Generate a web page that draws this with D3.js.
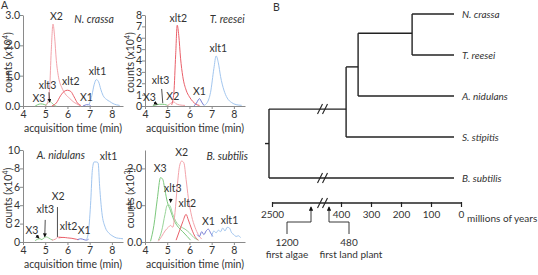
<!DOCTYPE html>
<html>
<head>
<meta charset="utf-8">
<script src="https://cdn.jsdelivr.net/npm/d3@7"></script>
<style>
  body { margin: 0; background: #fff; }
  text { font-family: Lato, "Open Sans", sans-serif; fill: #333; }
</style>
</head>
<body>
<div id="chart"></div>
<script>
// ---- data: part A, chromatograms (time in min, counts in the panel's unit) ----
const panelNames = ["N. crassa", "T. reesei", "A. nidulans", "B. subtilis"];
const yMax = [3, 8, 10, 2.5];
const yTicks = [[0, 1, 2, 3], [0, 1, 2, 3, 4, 5, 6, 7, 8], [0, 2, 4, 6, 8, 10], [0, 1, 2]];
const yExp = ["4", "4", "4", "3"];
const xTicks = [4, 5, 6, 7, 8];

const ncrassaTraces = [
  ["X3", [[4.55,0],[4.65,0.04],[4.8,0.07],[4.95,0.05],[5.05,0.02]]],
  ["xlt3", [[5.0,0.02],[5.1,0.08],[5.2,0.15],[5.3,0.1],[5.4,0.03],[5.5,0]]],
  ["X2", [[5.0,0],[5.1,0.1],[5.2,0.6],[5.27,1.8],[5.35,2.7],[5.42,2.3],[5.5,1.5],[5.6,0.95],[5.75,0.6],[5.9,0.4],[6.1,0.25],[6.3,0.12],[6.5,0.04],[6.6,0]]],
  ["xlt2", [[5.3,0],[5.5,0.1],[5.7,0.35],[5.85,0.48],[6.0,0.52],[6.15,0.48],[6.3,0.3],[6.45,0.1],[6.6,0.02]]],
  ["X1", [[6.7,0],[6.8,0.03],[6.9,0.05],[7.0,0.03],[7.05,0]]],
  ["xlt1", [[6.9,0.01],[7.0,0.1],[7.1,0.35],[7.2,0.7],[7.3,0.87],[7.4,0.8],[7.5,0.55],[7.6,0.35],[7.75,0.22],[7.9,0.15],[8.05,0.08],[8.2,0.04],[8.35,0.02]]]
];
const treeseiTraces = [
  ["X3", [[4.35,0.02],[4.5,0.1],[4.65,0.15],[4.8,0.15],[4.95,0.1],[5.05,0.03]]],
  ["X2", [[5.0,0.03],[5.1,0.15],[5.2,0.3],[5.3,0.35],[5.4,0.2],[5.55,0.1],[5.8,0.05]]],
  ["xlt2", [[5.2,0.1],[5.3,1.2],[5.38,4.5],[5.45,7.1],[5.52,6.2],[5.6,4.2],[5.7,2.6],[5.85,1.4],[6.0,0.8],[6.15,0.4],[6.3,0.15],[6.45,0.05]]],
  ["X1", [[6.2,0.02],[6.3,0.2],[6.4,0.55],[6.45,0.65],[6.55,0.35],[6.65,0.05]]],
  ["xlt1", [[6.65,0.05],[6.8,0.3],[6.95,1.2],[7.1,3.3],[7.2,4.4],[7.3,3.8],[7.4,2.6],[7.55,1.4],[7.7,0.7],[7.9,0.3],[8.1,0.12],[8.35,0.06]]]
];
const anidulansTraces = [
  ["X3", [[4.55,0.15],[4.65,0.3],[4.75,0.35],[4.85,0.25]]],
  ["xlt3", [[4.85,0.25],[4.95,0.45],[5.05,0.55],[5.15,0.45],[5.25,0.3],[5.35,0.2]]],
  ["X2", [[5.3,0.2],[5.45,0.3],[5.6,0.55],[5.75,0.5]]],
  ["xlt2", [[5.6,0.45],[5.8,0.5],[6.0,0.45],[6.2,0.4],[6.4,0.3],[6.5,0.25]]],
  ["X1", [[6.45,0.25],[6.6,0.35],[6.75,0.25],[6.85,0.2],[6.95,0.3]]],
  ["xlt1", [[6.85,0.2],[6.95,1.2],[7.05,4.5],[7.12,7.8],[7.2,8.7],[7.3,8.7],[7.38,8.6],[7.45,6],[7.55,3.2],[7.7,1.6],[7.85,1.0],[8.0,0.7],[8.2,0.45],[8.4,0.38],[8.5,0.35]]]
];
const bsubtilisTraces = [
  ["X3", [[4.25,0.02],[4.4,0.45],[4.55,1.15],[4.7,1.75],[4.8,1.7],[4.9,1.4],[5.0,1.1],[5.15,0.85],[5.3,0.6],[5.5,0.4],[5.7,0.28],[5.9,0.15],[6.05,0.05]]],
  ["xlt3", [[4.6,0.05],[4.75,0.3],[4.9,0.75],[5.0,1.0],[5.1,1.0],[5.25,0.75],[5.4,0.55],[5.6,0.42],[5.8,0.35],[6.0,0.25],[6.2,0.12],[6.4,0.05]]],
  ["X2", [[4.6,0.02],[4.75,0.15],[4.9,0.3],[5.05,0.4],[5.15,0.45],[5.25,0.4],[5.35,0.8],[5.45,1.5],[5.55,2.05],[5.65,2.2],[5.75,2.15],[5.85,1.7],[5.95,1.2],[6.1,0.7],[6.25,0.4],[6.4,0.2],[6.55,0.08]]],
  ["xlt2", [[5.4,0.05],[5.55,0.3],[5.7,0.55],[5.85,0.75],[5.95,0.6],[6.1,0.35],[6.25,0.15],[6.4,0.05]]],
  ["X1", [[6.35,0.2],[6.45,0.15],[6.55,0.28],[6.65,0.2],[6.75,0.3],[6.85,0.35],[6.95,0.25],[7.05,0.15]]],
  ["xlt1", [[7.0,0.15],[7.1,0.3],[7.2,0.25],[7.3,0.32],[7.4,0.28],[7.5,0.38],[7.6,0.3],[7.7,0.4],[7.8,0.38],[7.9,0.25],[8.0,0.2],[8.1,0.15],[8.2,0.17],[8.3,0.12]]]
];
const allTraces = [ncrassaTraces, treeseiTraces, anidulansTraces, bsubtilisTraces];

// peak labels: [text, time, value, pointer [t1, v1, t2, v2, arrowhead]]
const ncrassaLabels = [["X2",5.5,2.82],["xlt3",5.1,0.55,[5.17,0.45,5.2,0.13,1]],["X3",4.72,0.12],["xlt2",6.15,0.68],["X1",6.85,0.17],["xlt1",7.35,1.02]];
const treeseiLabels = [["xlt2",5.5,7.35],["X3",4.2,0.4,[4.4,0.3,4.55,0.15,1]],["xlt3",4.7,1.9,[4.75,1.5,4.8,0.25,0]],["X2",5.25,0.55],["X1",6.45,0.95],["xlt1",7.3,4.75]];
const anidulansLabels = [["X3",4.4,0.9,[4.58,0.75,4.72,0.42,1]],["xlt3",5.0,3.2,[5.0,2.4,4.98,0.58,1]],["X2",5.58,4.6,[5.55,3.8,5.55,0.55,0]],["xlt2",6.05,1.3],["X1",6.75,0.9],["xlt1",7.85,8.9]];
const bsubtilisLabels = [["X3",4.68,1.9],["X2",5.65,2.33],["xlt3",5.25,1.36,[5.16,1.18,5.15,1.08,1]],["xlt2",5.9,0.95],["X1",6.85,0.45],["xlt1",7.8,0.5]];
const allLabels = [ncrassaLabels, treeseiLabels, anidulansLabels, bsubtilisLabels];

// ---- data: part B, tree (ages in millions of years) ----
const taxa = ["N. crassa", "T. reesei", "A. nidulans", "S. stipitis", "B. subtilis"];
const treeData = { age: 2600, pos: 3.16, children: [
  { age: 383, pos: 2.32, cut: true, children: [
    { age: 343, pos: 1.29, children: [
      { age: 163, pos: 0.47, children: [{ name: "N. crassa" }, { name: "T. reesei" }] },
      { name: "A. nidulans" } ] },
    { name: "S. stipitis" } ] },
  { name: "B. subtilis", cut: true } ] };
const timeTicks = [2500, 400, 300, 200, 100, 0];
const events = [[1200, "1200", "first algae"], [480, "480", "first land plant"]];

// ---- styles / layout ----
const traceColor = { X3: "#7cc87c", xlt3: "#98d498", X2: "#f3a3aa", xlt2: "#ea606a", X1: "#7a7fd6", xlt1: "#a2c6ef" };
const boxes = [
  { x0: 23, yTop: 15, yBase: 106 }, { x0: 145, yTop: 15, yBase: 106 },
  { x0: 23, yTop: 150, yBase: 242 }, { x0: 145, yTop: 150, yBase: 242 }
];
const speciesPos = [[7.2, 2.75], [7.7, 7.3], [5.7, 9.0], [7.7, 2.22]];

const svg = d3.select("#chart").append("svg")
  .attr("width", 538).attr("height", 275);

svg.append("defs").append("marker")
  .attr("id", "ah").attr("viewBox", "0 0 6 6").attr("refX", 5).attr("refY", 3)
  .attr("markerWidth", 5).attr("markerHeight", 5).attr("orient", "auto")
  .append("path").attr("d", "M0,0L6,3L0,6Z").attr("fill", "#111");

svg.append("text").attr("x", 1).attr("y", 9).style("font-size", "10.5px").text("A");
svg.append("text").attr("x", 273).attr("y", 11).style("font-size", "10.5px").text("B");

allTraces.forEach(function (traces, i) {
  const b = boxes[i];
  const x = d3.scaleLinear().domain([4, 8.5]).range([b.x0, b.x0 + 100]);
  const y = d3.scaleLinear().domain([0, yMax[i]]).range([b.yBase, b.yTop]);
  const g = svg.append("g");

  const xa = g.append("g").attr("transform", `translate(0,${b.yBase})`)
    .call(d3.axisBottom(x).tickValues(xTicks).tickFormat(d3.format("d")).tickSize(3).tickSizeOuter(0));
  const ya = g.append("g").attr("transform", `translate(${b.x0},0)`)
    .call(d3.axisLeft(y).tickValues(yTicks[i]).tickSize(3).tickSizeOuter(0));
  [xa, ya].forEach(function (a) {
    a.select(".domain").attr("stroke", "#8a8a8a");
    a.selectAll(".tick line").attr("stroke", "#8a8a8a");
    a.selectAll(".tick text").style("font-size", "10.5px").attr("fill", "#333");
  });
  ya.selectAll(".tick text").attr("x", -3);
  xa.selectAll(".tick text").attr("y", 5);

  g.append("text")
    .attr("x", b.x0 + 50).attr("y", b.yBase + 26)
    .attr("text-anchor", "middle").style("font-size", "10.5px")
    .text("acquisition time  (min)");

  const yl = g.append("text")
    .attr("transform", `translate(${b.x0 - 15},${(b.yTop + b.yBase) / 2 + 2}) rotate(-90)`)
    .attr("text-anchor", "middle").attr("dy", "0.35em").style("font-size", "10.5px");
  yl.append("tspan").text("counts (x10");
  yl.append("tspan").attr("dy", -4).style("font-size", "7px").text(yExp[i]);
  yl.append("tspan").attr("dy", 4).text(")");

  const line = d3.line().x(d => x(d[0])).y(d => y(d[1])).curve(d3.curveMonotoneX);
  g.selectAll("path.trace").data(traces).join("path")
    .attr("class", "trace")
    .attr("d", d => line(d[1]))
    .attr("fill", "none")
    .attr("stroke", d => traceColor[d[0]])
    .attr("stroke-width", 1);

  g.append("text")
    .attr("x", x(speciesPos[i][0])).attr("y", y(speciesPos[i][1]))
    .attr("text-anchor", "middle").style("font-size", "10.5px").style("font-style", "italic")
    .text(panelNames[i]);

  allLabels[i].forEach(function (l) {
    g.append("text").attr("x", x(l[1])).attr("y", y(l[2]))
      .attr("text-anchor", "middle").style("font-size", "10.5px").text(l[0]);
    if (l[3]) {
      const p = l[3];
      g.append("line")
        .attr("x1", x(p[0])).attr("y1", y(p[1])).attr("x2", x(p[2])).attr("y2", y(p[3]))
        .attr("stroke", "#222").attr("stroke-width", 0.8)
        .attr("marker-end", p[4] ? "url(#ah)" : null);
    }
  });
});

// ---- part B: tree ----
const tx = d3.scaleLinear().domain([2500, 1200, 480, 400, 0]).range([272, 311, 329, 341, 461]);
const leafY = d3.scaleLinear().domain([0, taxa.length - 1]).range([14, 178]);
const tipX = tx(0) - 7;
const root = d3.hierarchy(treeData);
const nodeY = n => n.data.name ? leafY(taxa.indexOf(n.data.name)) : leafY(n.data.pos);
const nodeX = n => n.data.name ? tipX : tx(n.data.age);
const tg = svg.append("g").attr("stroke", "#222").attr("stroke-width", 1.4).attr("fill", "none");

function slashes(g, cx, cy) {
  [-3, 2].forEach(function (o) {
    g.append("line").attr("x1", cx + o - 2.5).attr("y1", cy + 5).attr("x2", cx + o + 2.5).attr("y2", cy - 5)
      .attr("stroke-width", 1.1);
  });
}

root.each(function (n) {
  if (n.parent) {
    tg.append("line").attr("x1", nodeX(n.parent)).attr("x2", nodeX(n))
      .attr("y1", nodeY(n)).attr("y2", nodeY(n));
    if (n.data.cut) slashes(tg, 323, nodeY(n));
  }
  if (n.children) {
    const ys = n.children.map(nodeY);
    tg.append("line").attr("x1", nodeX(n)).attr("x2", nodeX(n))
      .attr("y1", d3.min(ys)).attr("y2", d3.max(ys));
  }
});
tg.append("line").attr("x1", nodeX(root) - 4).attr("x2", nodeX(root))
  .attr("y1", nodeY(root)).attr("y2", nodeY(root));

svg.selectAll("text.leaf").data(root.leaves()).join("text")
  .attr("class", "leaf")
  .attr("x", tipX + 8).attr("y", d => nodeY(d)).attr("dy", "0.35em")
  .style("font-size", "10px").style("font-style", "italic")
  .text(d => d.data.name);

// time axis
const axisY = 203;
const ta = svg.append("g").attr("transform", `translate(0,${axisY})`)
  .call(d3.axisBottom(tx).tickValues(timeTicks).tickFormat(d3.format("d")).tickSize(4).tickSizeOuter(0));
ta.select(".domain").attr("stroke", "#222").attr("stroke-width", 1.4)
  .attr("d", `M${tx(2500)},0H${tx(0)}`);
ta.selectAll(".tick line").attr("stroke", "#222").attr("stroke-width", 1.2).attr("y1", -1);
ta.selectAll(".tick text").style("font-size", "10px").attr("y", 8).attr("fill", "#333");
slashes(tg, 323, axisY);

svg.append("text").attr("x", tx(0) + 6).attr("y", axisY + 18.5)
  .style("font-size", "10px").text("millions of years");

events.forEach(function (e, i) {
  const ax = tx(e[0]);
  const lx = i === 0 ? ax - 24 : ax + 20;
  tg.append("path").attr("d", `M${lx},${axisY + 31}V${axisY + 19}H${ax}V${axisY + 4}`)
    .attr("stroke-width", 0.9).attr("marker-end", "url(#ah)");
  svg.append("text").attr("x", lx).attr("y", axisY + 43)
    .attr("text-anchor", "middle").style("font-size", "10px").text(e[1]);
  svg.append("text").attr("x", lx + (i === 0 ? 0 : 2)).attr("y", axisY + 55)
    .attr("text-anchor", "middle").style("font-size", "10px").text(e[2]);
});
</script>
</body>
</html>
